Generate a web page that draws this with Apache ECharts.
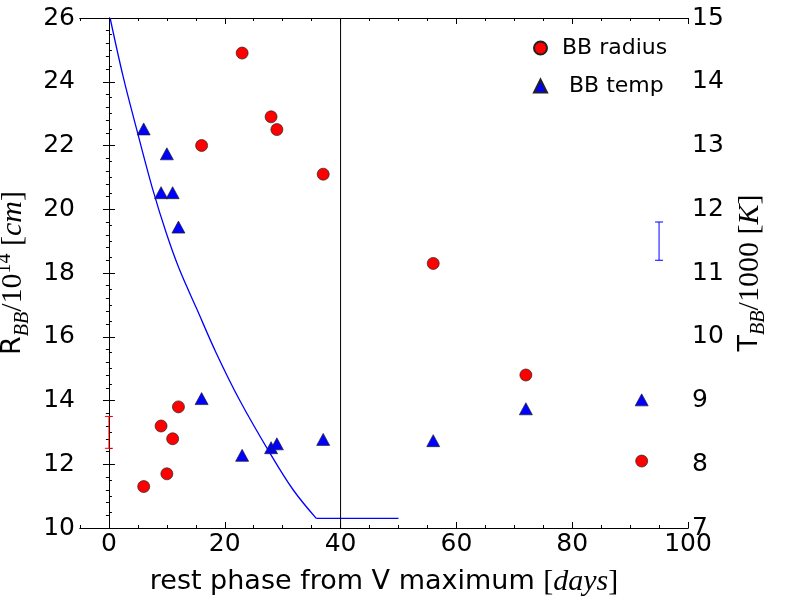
<!DOCTYPE html>
<html lang="en">
<head>
    <meta charset="UTF-8">
    <title>BB radius / BB temp</title>
    <script type="text/javascript" src="https://cdn.jsdelivr.net/npm/echarts@6.0.0/dist/echarts.min.js"></script>
    <style>
        html, body {margin: 0; padding: 0; background: #fff;}
        #main {width: 800px; height: 600px;}
    </style>
</head>
<body>
<div id="main"></div>
<script type="text/javascript">
    // rest phase of each epoch [days]
    var phase = [6, 9, 10, 11, 12, 16, 23, 28, 29, 37, 56, 72, 92];
    // R_BB / 1e14 cm  (left axis)
    var bbRadius = [11.3, 13.2, 11.7, 12.8, 13.8, 22.0, 24.9, 22.9, 22.5, 21.1, 18.3, 14.8, 12.1];
    // T_BB / 1000 K  (right axis)
    var bbTemp = [13.26, 12.26, 12.87, 12.26, 11.72, 9.03, 8.14, 8.26, 8.32, 8.39, 8.37, 8.87, 9.01];

    // blue curve (left axis units)
    var curveX = [0.2, 2.4, 4.8, 7.6, 10.0, 12.2, 15.1, 18.5, 22.6, 27.8, 31.8, 35.8];
    var curveY = [26.0, 24.2, 22.5, 20.6, 19.2, 18.1, 16.9, 15.5, 14.0, 12.35, 11.2, 10.3];
    var flatX = [35.8, 50];
    var flatY = [10.3, 10.3];

    // vertical marker line
    var markX = 40;

    // typical error bars: [x, low, high]
    var radiusErr = [[0, 12.5, 13.5]];
    var tempErr = [[95, 11.2, 11.8]];

    // x tick labels
    var xMajor = [0, 20, 40, 60, 80, 100];

    function pairs(xs, ys) {
        return xs.map(function (x, i) { return [x, ys[i]]; });
    }

    function errorBar(params, api) {
        var x = api.value(0);
        var lo = api.coord([x, api.value(1)]);
        var hi = api.coord([x, api.value(2)]);
        var w = 4;
        var style = {stroke: api.visual('color'), lineWidth: 1};
        return {
            type: 'group',
            children: [
                {type: 'line', shape: {x1: lo[0], y1: lo[1], x2: hi[0], y2: hi[1]}, style: style},
                {type: 'line', shape: {x1: lo[0] - w, y1: lo[1], x2: lo[0] + w, y2: lo[1]}, style: style},
                {type: 'line', shape: {x1: hi[0] - w, y1: hi[1], x2: hi[0] + w, y2: hi[1]}, style: style}
            ]
        };
    }

    var black = '#000';
    var tickFont = {color: black, fontFamily: 'DejaVu Sans', fontSize: 25};
    var serif = 'Liberation Serif';

    // major ticks at the labelled values
    function xMajorAxis(pos) {
        return {
            type: 'value', position: pos, min: -5, max: 100,
            axisLine: {show: true, lineStyle: {color: black, width: 1}},
            axisTick: {show: true, inside: true, length: 6, customValues: xMajor, lineStyle: {color: black}},
            axisLabel: {show: false},
            splitLine: {show: false}
        };
    }
    // minor ticks every 5 days (min -5 is a multiple of 5)
    function xMinorAxis(pos) {
        return {
            type: 'value', position: pos, min: -5, max: 100, interval: 5,
            axisLine: {show: true, lineStyle: {color: black, width: 1}},
            axisTick: {show: true, inside: true, length: 3, lineStyle: {color: black}},
            axisLabel: {show: false},
            splitLine: {show: false}
        };
    }

    var xMain = xMajorAxis('bottom');
    xMain.axisLabel = Object.assign({show: true, margin: 4, customValues: xMajor}, tickFont);
    xMain.name = '{r|rest phase from V maximum }{m|[}{i|days}{m|]}';
    xMain.nameLocation = 'middle';
    xMain.nameGap = 39;
    xMain.nameTextStyle = {
        rich: {
            r: {fontFamily: 'DejaVu Sans', fontSize: 27, color: black},
            m: {fontFamily: serif, fontSize: 30, color: black},
            i: {fontFamily: serif, fontStyle: 'italic', fontSize: 30, color: black}
        }
    };

    var myChart = echarts.init(document.getElementById('main'));
    var option = {
        animation: false,
        backgroundColor: '#fff',
        textStyle: {fontFamily: 'DejaVu Sans'},
        grid: {left: 80, right: 112, top: 18, bottom: 72, containLabel: false, outerBoundsMode: 'none'},
        legend: {
            orient: 'vertical',
            left: 528, top: 31,
            itemWidth: 13, itemHeight: 13, itemGap: 14,
            textStyle: {fontFamily: 'DejaVu Sans', fontSize: 22, color: black, lineHeight: 24, padding: [0, 0, 0, 10]},
            data: [{name: 'BB radius', icon: 'circle'}, {name: ' BB temp', icon: 'triangle'}]
        },
        xAxis: [
            xMain,
            xMinorAxis('bottom'),
            xMajorAxis('top'),
            xMinorAxis('top')
        ],
        yAxis: [
            {
                type: 'value', position: 'left', min: 10, max: 26, interval: 2,
                axisLine: {show: true, lineStyle: {color: black}},
                axisTick: {inside: true, length: 6, lineStyle: {color: black}},
                minorTick: {show: true, splitNumber: 4, length: 3, lineStyle: {color: black}},
                axisLabel: Object.assign({margin: 5}, tickFont),
                splitLine: {show: false},
                name: '{r|R}{sub|BB}{m|/10}{sup|14}{m| [}{i|cm}{m|]}',
                nameLocation: 'middle', nameRotate: 90, nameGap: 47,
                nameTextStyle: {
                    rich: {
                        r: {fontFamily: 'DejaVu Sans', fontSize: 27, lineHeight: 38, color: black},
                        sub: {fontFamily: serif, fontStyle: 'italic', fontSize: 20, lineHeight: 20, verticalAlign: 'bottom', color: black},
                        sup: {fontFamily: serif, fontSize: 20, lineHeight: 22, verticalAlign: 'top', color: black},
                        m: {fontFamily: serif, fontSize: 30, lineHeight: 38, color: black},
                        i: {fontFamily: serif, fontStyle: 'italic', fontSize: 30, lineHeight: 38, color: black}
                    }
                }
            },
            {
                type: 'value', position: 'right', min: 7, max: 15, interval: 1,
                axisLine: {show: true, lineStyle: {color: black}},
                axisTick: {inside: true, length: 6, lineStyle: {color: black}},
                minorTick: {show: true, splitNumber: 5, length: 3, lineStyle: {color: black}},
                axisLabel: Object.assign({margin: 4}, tickFont),
                splitLine: {show: false},
                name: '{r|T}{sub|BB}{m|/1000 [}{i|K}{m|]}',
                nameLocation: 'middle', nameRotate: 90, nameGap: 35,
                nameTextStyle: {
                    rich: {
                        r: {fontFamily: 'DejaVu Sans', fontSize: 27, lineHeight: 38, color: black},
                        sub: {fontFamily: serif, fontStyle: 'italic', fontSize: 20, lineHeight: 20, verticalAlign: 'bottom', color: black},
                        m: {fontFamily: serif, fontSize: 30, lineHeight: 38, color: black},
                        i: {fontFamily: serif, fontStyle: 'italic', fontSize: 30, lineHeight: 38, color: black}
                    }
                }
            }
        ],
        series: [
            {
                name: 'curve', type: 'line', xAxisIndex: 0, yAxisIndex: 0,
                data: pairs(curveX, curveY), smooth: 0.35,
                showSymbol: false, symbol: 'none',
                lineStyle: {color: '#0000ff', width: 1.3}, z: 2
            },
            {
                name: 'floor', type: 'line', xAxisIndex: 0, yAxisIndex: 0,
                data: pairs(flatX, flatY), showSymbol: false, symbol: 'none',
                lineStyle: {color: '#0000ff', width: 1.3}, z: 2
            },
            {
                name: 'vline', type: 'line', xAxisIndex: 0, yAxisIndex: 0,
                data: [[markX, 10], [markX, 26]], showSymbol: false, symbol: 'none',
                lineStyle: {color: black, width: 1}, z: 2
            },
            {
                name: 'radiusErr', type: 'custom', xAxisIndex: 0, yAxisIndex: 0,
                renderItem: errorBar, data: radiusErr, encode: {x: 0, y: [1, 2]},
                itemStyle: {color: '#ff0000'}, z: 3
            },
            {
                name: 'tempErr', type: 'custom', xAxisIndex: 0, yAxisIndex: 1,
                renderItem: errorBar, data: tempErr, encode: {x: 0, y: [1, 2]},
                itemStyle: {color: '#0000ff'}, z: 3
            },
            {
                name: 'BB radius', type: 'scatter', xAxisIndex: 0, yAxisIndex: 0,
                data: pairs(phase, bbRadius), symbol: 'circle', symbolSize: 12,
                itemStyle: {color: '#ff0000', borderColor: '#222', borderWidth: 0.7, opacity: 1}, z: 5
            },
            {
                name: ' BB temp', type: 'scatter', xAxisIndex: 0, yAxisIndex: 1,
                data: pairs(phase, bbTemp), symbol: 'triangle', symbolSize: [13, 12],
                itemStyle: {color: '#0000ff', borderColor: '#222', borderWidth: 0.7, opacity: 1}, z: 5
            }
        ]
    };
    myChart.setOption(option);
</script>
</body>
</html>
